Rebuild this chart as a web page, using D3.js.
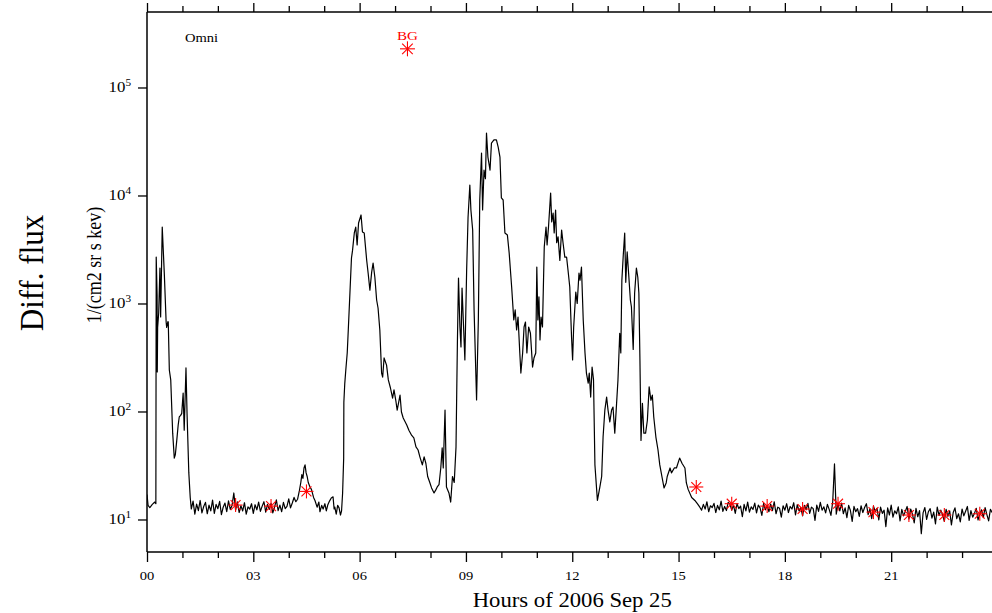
<!DOCTYPE html>
<html>
<head>
<meta charset="utf-8">
<script src="https://cdn.jsdelivr.net/npm/d3@7"></script>
<style>
  html, body { margin: 0; padding: 0; background: #fff; }
  svg { display: block; }
  text { font-family: "Liberation Serif", "Times New Roman", serif; }
</style>
</head>
<body>
<svg id="chart" width="992" height="613"></svg>
<script>
// ---------------- DATA ----------------
const xTickHours = [0, 3, 6, 9, 12, 15, 18, 21];
const xTickLabels = ["00", "03", "06", "09", "12", "15", "18", "21"];
const minorHours = [1, 2, 4, 5, 7, 8, 10, 11, 13, 14, 16, 17, 19, 20, 22, 23];
const yTickExponents = [1, 2, 3, 4, 5];

// early burst [hour, flux]
const earlyBurst = [
  [0.00, 17], [0.03, 13.5], [0.08, 12.9], [0.15, 13.8], [0.22, 14.5], [0.25, 14],
  [0.26, 2690], [0.285, 1200], [0.29, 232], [0.30, 600], [0.33, 817], [0.365, 2130],
  [0.385, 750], [0.43, 5100], [0.49, 1840], [0.54, 674], [0.555, 600], [0.59, 680],
  [0.60, 674], [0.63, 242], [0.67, 196], [0.725, 63], [0.77, 37], [0.80, 40],
  [0.84, 54], [0.88, 75], [0.91, 89], [0.95, 92], [0.98, 96], [1.02, 148],
  [1.05, 67], [1.10, 253], [1.13, 96], [1.18, 27], [1.22, 16]
];

// quiet interval 1.25 h – 4.20 h, every 0.05 h
const quietMorningStart = 1.25;
const quietMorningFlux = [
  12.5, 14.8, 11.2, 13.9, 12.1, 15.0, 11.5, 13.2, 14.4, 11.3,
  13.6, 12.0, 15.1, 11.4, 13.8, 12.6, 14.7, 11.1, 13.0, 14.2,
  11.8, 14.9, 12.4, 13.5, 17.6, 12.2, 14.6, 11.6, 13.4, 12.0,
  14.3, 11.2, 13.1, 12.5, 14.0, 11.4, 13.7, 12.3, 14.5, 11.9,
  13.3, 14.6, 11.7, 13.8, 12.4, 14.1, 11.5, 13.0, 15.2, 12.1,
  13.6, 11.8, 14.4, 12.6, 13.2, 15.5, 12.8, 14.2, 16.0, 14.6
];

// bump and main injections [hour, flux]
const mainEvents = [
  [4.25, 15.4], [4.30, 18.5], [4.34, 22], [4.37, 26], [4.40, 24], [4.43, 30], [4.46, 32],
  [4.49, 27], [4.52, 25], [4.55, 22], [4.60, 20], [4.64, 19], [4.70, 16], [4.74, 15],
  [4.80, 13], [4.85, 14.5], [4.88, 11.8], [4.93, 13.5], [4.97, 12.5], [5.02, 14],
  [5.06, 12], [5.10, 13.6], [5.15, 14.8], [5.20, 15.8], [5.25, 16.2], [5.28, 12.5],
  [5.30, 13], [5.34, 11.2], [5.38, 13.5], [5.42, 12.8], [5.46, 11], [5.49, 12],
  [5.52, 17.6], [5.55, 37], [5.555, 122], [5.58, 180], [5.61, 242], [5.65, 348],
  [5.68, 568], [5.73, 1334], [5.77, 2636], [5.80, 3100], [5.85, 4496], [5.89, 5100],
  [5.93, 3481], [5.97, 5560], [6.04, 6600], [6.08, 4600], [6.13, 4500], [6.20, 2500],
  [6.24, 1914], [6.29, 1330], [6.34, 1950], [6.38, 2370], [6.43, 1750], [6.48, 1077],
  [6.52, 908], [6.57, 568], [6.62, 227], [6.65, 208], [6.69, 313], [6.76, 269],
  [6.81, 196], [6.87, 165], [6.93, 133], [6.97, 159], [7.02, 127], [7.06, 103],
  [7.14, 142], [7.18, 99], [7.23, 87], [7.33, 75], [7.39, 67], [7.47, 60], [7.53, 57],
  [7.59, 47], [7.65, 44], [7.70, 38], [7.77, 32], [7.82, 38], [7.87, 33], [7.92, 25],
  [7.98, 22], [8.03, 19.6], [8.10, 17.6], [8.15, 18.8], [8.19, 20], [8.24, 21],
  [8.29, 30], [8.33, 46], [8.36, 30], [8.41, 103], [8.45, 20], [8.52, 17.6],
  [8.57, 14.5], [8.62, 25], [8.67, 22], [8.72, 47], [8.74, 148], [8.76, 459],
  [8.79, 1720], [8.83, 606], [8.86, 396], [8.89, 1390], [8.97, 300], [9.02, 2041],
  [9.06, 6324], [9.09, 9484], [9.11, 12500], [9.14, 7340], [9.19, 4790], [9.23, 871],
  [9.30, 128], [9.35, 703], [9.39, 9080], [9.44, 24700], [9.47, 7340], [9.51, 17200],
  [9.55, 14300], [9.58, 37900], [9.62, 22700], [9.68, 17200], [9.72, 30600],
  [9.79, 32700], [9.86, 32700], [9.91, 28100], [9.96, 22700], [10.00, 9484],
  [10.05, 9080], [10.10, 4496], [10.17, 4300], [10.22, 2937], [10.29, 1421],
  [10.35, 703], [10.39, 871], [10.43, 568], [10.47, 750], [10.52, 348], [10.55, 227],
  [10.60, 348], [10.64, 606], [10.68, 674], [10.72, 348], [10.77, 606], [10.82, 530],
  [10.88, 258], [10.92, 313], [10.97, 348], [11.00, 2177], [11.03, 703], [11.06, 1149],
  [11.09, 459], [11.12, 750], [11.16, 606], [11.21, 3334], [11.26, 5100], [11.29, 3480],
  [11.33, 5100], [11.39, 10540], [11.42, 5700], [11.46, 6886], [11.49, 4496],
  [11.53, 7340], [11.56, 3650], [11.60, 4150], [11.65, 2500], [11.70, 4790],
  [11.74, 3650], [11.79, 2691], [11.84, 2691], [11.88, 2041], [11.93, 1421],
  [11.98, 490], [12.01, 300], [12.04, 606], [12.10, 1276], [12.14, 1000],
  [12.19, 1914], [12.22, 1640], [12.26, 2177], [12.31, 703], [12.36, 348],
  [12.40, 227], [12.45, 183], [12.48, 227], [12.52, 136], [12.56, 258], [12.60, 196],
  [12.64, 32], [12.71, 15], [12.78, 20], [12.83, 25], [12.87, 58], [12.92, 103],
  [12.97, 136], [13.01, 103], [13.06, 80], [13.11, 103], [13.15, 110], [13.20, 63],
  [13.24, 103], [13.29, 196], [13.34, 530], [13.37, 348], [13.40, 1640], [13.44, 2812],
  [13.48, 4496], [13.51, 1570], [13.55, 3000], [13.59, 1914], [13.64, 1077],
  [13.67, 928], [13.72, 375], [13.76, 1246], [13.81, 2130], [13.85, 1750],
  [13.88, 1246], [13.91, 300], [13.94, 54], [13.98, 119], [14.02, 63], [14.07, 63],
  [14.12, 83], [14.17, 169], [14.22, 127], [14.26, 142], [14.30, 89], [14.36, 58],
  [14.42, 44], [14.47, 32], [14.53, 25], [14.59, 19.6], [14.65, 21.8], [14.68, 25],
  [14.76, 30], [14.80, 27], [14.88, 30], [14.94, 30], [15.03, 37], [15.10, 33],
  [15.18, 30], [15.22, 21.8], [15.27, 19], [15.37, 16], [15.46, 15], [15.53, 14]
];

// quiet interval 15.60 h – 24.00 h, every 0.05 h
const quietEveningStart = 15.60;
const quietEveningFlux = [
  13.0, 12.2, 13.8, 12.5, 14.6, 11.8, 13.4, 12.9, 14.1, 11.6,
  13.5, 12.3, 14.8, 11.9, 13.2, 12.1, 14.4, 13.9, 12.2, 13.6,
  11.4, 14.0, 12.6, 13.3, 10.6, 13.8, 12.0, 14.5, 11.7, 13.1,
  12.4, 14.2, 11.5, 13.6, 12.8, 10.9, 14.1, 12.3, 13.5, 11.8,
  13.9, 12.1, 14.6, 11.3, 13.0, 12.7, 10.5, 13.4, 12.2, 14.0,
  11.6, 13.2, 12.5, 14.3, 11.0, 13.7, 12.0, 12.9, 10.8, 13.5,
  12.3, 14.1, 11.4, 13.0, 12.6, 9.8, 13.6, 11.9, 14.4, 12.2,
  13.1, 11.5, 13.8, 12.4, 10.9, 14.6, 32.7, 11.2, 13.9, 12.0,
  14.2, 11.3, 12.8, 10.4, 13.5, 12.1, 9.6, 13.2, 11.8, 12.6,
  10.7, 13.4, 11.6, 12.9, 14.0, 11.1, 12.5, 10.2, 13.3, 11.9,
  12.7, 9.9, 13.0, 11.4, 12.2, 8.6, 12.8, 11.0, 13.6, 10.5,
  12.0, 11.3, 13.1, 9.7, 12.4, 10.8, 11.9, 13.2, 10.1, 12.5,
  11.2, 9.3, 12.7, 10.6, 12.1, 7.4, 11.5, 12.9, 10.0, 11.8,
  12.6, 10.3, 11.7, 9.1, 13.0, 10.9, 12.2, 11.0, 9.6, 12.4,
  10.7, 12.0, 8.9, 11.6, 12.8, 10.2, 11.3, 9.5, 12.5, 10.8,
  11.9, 13.2, 9.8, 12.1, 10.5, 11.4, 12.7, 9.9, 11.2, 12.3,
  10.4, 12.9, 11.1, 9.7, 12.4, 11.6, 13.0, 10.8, 12.2
];
const quietStep = 0.05;

// background (BG) level points
const bgHours = [2.5, 3.5, 4.5, 15.5, 16.5, 17.5, 18.5, 19.5, 20.5, 21.5, 22.5, 23.5];
const bgFlux = [13.6, 13.3, 18.2, 20.0, 14.0, 13.3, 12.5, 14.0, 11.7, 11.0, 11.0, 11.3];
const bgLegendHour = 7.35;
const bgLegendFlux = 2.28e5;

// ---------------- CHART ----------------
const svg = d3.select("#chart");
const mLeft = 147, mRight = 997.5, mTop = 12, mBottom = 552;
const stretch = 1.12; // reference text is slightly wider than regular Times

const x = d3.scaleLinear().domain([0, 24]).range([mLeft, mRight]);
const y = d3.scaleLog().domain([5, 5e5]).range([mBottom, mTop]);

// assemble series
const series = [];
earlyBurst.forEach(d => series.push(d));
quietMorningFlux.forEach((v, i) => series.push([quietMorningStart + i * quietStep, v]));
mainEvents.forEach(d => series.push(d));
quietEveningFlux.forEach((v, i) => series.push([quietEveningStart + i * quietStep, v]));

svg.append("defs").append("clipPath").attr("id", "clip")
  .append("rect").attr("x", mLeft).attr("y", mTop).attr("width", mRight - mLeft).attr("height", mBottom - mTop);

const line = d3.line().x(d => x(d[0])).y(d => y(d[1]));
svg.append("path")
  .datum(series)
  .attr("clip-path", "url(#clip)")
  .attr("d", line)
  .attr("fill", "none")
  .attr("stroke", "#000")
  .attr("stroke-width", 1.2)
  .attr("stroke-linejoin", "round");

// axes
const axisStyle = g => {
  g.selectAll(".domain").remove();
  g.selectAll(".tick line").attr("stroke", "#000").attr("stroke-width", 1.3);
  g.selectAll(".tick text").remove();
};
svg.append("g").attr("transform", `translate(0,${mBottom})`)
  .call(d3.axisBottom(x).tickValues(xTickHours).tickSize(10)).call(axisStyle);
svg.append("g").attr("transform", `translate(0,${mBottom})`)
  .call(d3.axisBottom(x).tickValues(minorHours).tickSize(6)).call(axisStyle);
svg.append("g").attr("transform", `translate(0,${mTop})`)
  .call(d3.axisTop(x).tickValues(xTickHours).tickSize(9)).call(axisStyle);
svg.append("g").attr("transform", `translate(0,${mTop})`)
  .call(d3.axisTop(x).tickValues(minorHours).tickSize(6)).call(axisStyle);
svg.append("g").attr("transform", `translate(${mLeft},0)`)
  .call(d3.axisLeft(y).tickValues(yTickExponents.map(e => Math.pow(10, e))).tickSize(9))
  .call(axisStyle);

// frame lines
svg.append("line").attr("x1", mLeft).attr("x2", 992).attr("y1", mTop).attr("y2", mTop)
  .attr("stroke", "#000").attr("stroke-width", 1.5);
svg.append("line").attr("x1", mLeft).attr("x2", 992).attr("y1", mBottom).attr("y2", mBottom)
  .attr("stroke", "#000").attr("stroke-width", 1.5);
svg.append("line").attr("x1", mLeft).attr("x2", mLeft).attr("y1", mTop).attr("y2", mBottom)
  .attr("stroke", "#000").attr("stroke-width", 1.5);

// x tick labels
svg.append("g").selectAll("text").data(xTickHours).join("text")
  .attr("transform", d => `translate(${x(d)},580) scale(${stretch},1)`)
  .attr("text-anchor", "middle").attr("font-size", 13)
  .text((d, i) => xTickLabels[i]);

// y tick labels
const yl = svg.append("g").selectAll("text").data(yTickExponents).join("text")
  .attr("transform", d => `translate(131,${y(Math.pow(10, d)) + 4.5}) scale(${stretch},1)`)
  .attr("text-anchor", "end").attr("font-size", 15);
yl.append("tspan").text("10");
yl.append("tspan").attr("dy", -6).attr("font-size", 10).text(d => d);

// axis titles
svg.append("text").attr("x", (mLeft + mRight) / 2).attr("y", 607)
  .attr("text-anchor", "middle").attr("font-size", 20)
  .attr("textLength", 199).attr("lengthAdjust", "spacingAndGlyphs")
  .text("Hours of 2006 Sep 25");
svg.append("text").attr("transform", `translate(43,273) scale(${stretch},1) rotate(-90)`)
  .attr("text-anchor", "middle").attr("font-size", 31)
  .text("Diff. flux");
svg.append("text").attr("transform", `translate(101,265) scale(${stretch},1) rotate(-90)`)
  .attr("text-anchor", "middle").attr("font-size", 18)
  .text("1/(cm2 sr s kev)");

// labels inside plot
svg.append("text").attr("transform", `translate(185,41.5) scale(${stretch},1)`)
  .attr("font-size", 13).text("Omni");
svg.append("text").attr("transform", `translate(${x(bgLegendHour)},40) scale(${stretch},1)`)
  .attr("text-anchor", "middle").attr("font-size", 13.5).attr("fill", "#ff0000").text("BG");

// star markers
function star(sel, r) {
  [0, 45, 90, 135].forEach(a => {
    const rad = a * Math.PI / 180;
    sel.append("line")
      .attr("x1", -r * Math.cos(rad)).attr("y1", -r * Math.sin(rad))
      .attr("x2", r * Math.cos(rad)).attr("y2", r * Math.sin(rad))
      .attr("stroke", "#ff0000").attr("stroke-width", 1.1);
  });
}
const bgData = bgHours.map((h, i) => [h, bgFlux[i]]);
svg.append("g").selectAll("g").data(bgData).join("g")
  .attr("transform", d => `translate(${x(d[0])},${y(d[1])})`)
  .each(function () { star(d3.select(this), 7); });
svg.append("g").attr("transform", `translate(${x(bgLegendHour)},${y(bgLegendFlux)})`)
  .call(g => star(g, 7.5));
</script>
</body>
</html>
